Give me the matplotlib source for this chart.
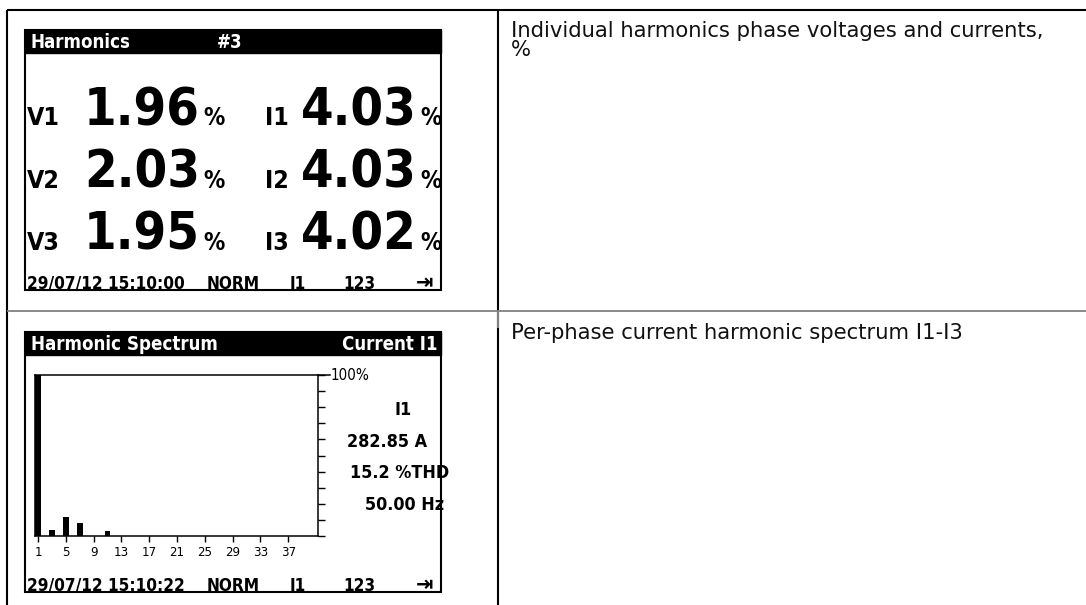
import os
import matplotlib
matplotlib.use('Agg')
import matplotlib.pyplot as plt
import matplotlib.patches as patches
from matplotlib import font_manager

# Values read from the meter screens
v_labels = ['V1', 'V2', 'V3']
v_values = [1.96, 2.03, 1.95]
i_labels = ['I1', 'I2', 'I3']
i_values = [4.03, 4.03, 4.02]

harmonic_orders = [1, 3, 5, 7, 11]
harmonic_levels = [100, 4, 12, 8, 3]
harmonic_ticks = [1, 5, 9, 13, 17, 21, 25, 29, 33, 37]

spectrum_info = ['I1', '282.85 A', '15.2 %THD', '50.00 Hz']
footer_top = ['29/07/12 15:10:00', 'NORM', 'I1', '123']
footer_bottom = ['29/07/12 15:10:22', 'NORM', 'I1', '123']
descriptions = ['Individual harmonics phase voltages and currents,\n%',
                'Per-phase current harmonic spectrum I1-I3']

W, H = 1086, 605


def find_lcd_font():
    # The meter uses a narrow bold face; look for any condensed bold font
    prefs = ['LiberationSansNarrow-Bold', 'NotoSans-CondensedBold', 'DejaVuSansCondensed-Bold',
             'RobotoCondensed-Bold', 'NotoSans-SemiCondensedBold', 'OpenSans-CondBold',
             'NotoSans-ExtraCondensedBold']
    files = [f.fname for f in font_manager.fontManager.ttflist]
    for p in prefs:
        for f in files:
            if os.path.basename(f).startswith(p):
                return font_manager.FontProperties(fname=f)
    for f in files:
        b = os.path.basename(f)
        if ('Narrow' in b or 'Condensed' in b) and 'Bold' in b and 'Italic' not in b:
            return font_manager.FontProperties(fname=f)
    return font_manager.FontProperties(family='DejaVu Sans', weight='bold')


def find_plain_lcd_font():
    files = [f.fname for f in font_manager.fontManager.ttflist]
    for p in ['LiberationSansNarrow-Regular', 'NotoSans-Condensed.', 'DejaVuSansCondensed.',
              'RobotoCondensed-Regular']:
        for f in files:
            if os.path.basename(f).startswith(p):
                return font_manager.FontProperties(fname=f)
    return font_manager.FontProperties(family='DejaVu Sans')


LCD = find_lcd_font()
LCD_PLAIN = find_plain_lcd_font()


def fx(x):
    return x / W


def fy(y):
    return 1 - y / H


def fit_size(bg, renderer, s, width_px, fp):
    # Font size that makes the string about width_px pixels wide
    t = bg.text(0, 0, s, fontproperties=fp, fontsize=20)
    w = t.get_window_extent(renderer).width
    t.remove()
    return 20 * width_px / w


def put(bg, x, y, s, fp, size, **kw):
    bg.text(x, y, s, fontproperties=fp, fontsize=size, **kw)


def draw_table(bg, renderer):
    # Table borders
    bg.plot([7, W], [10, 10], color='black', lw=1.5, solid_capstyle='butt')
    bg.plot([7, 7], [10, H], color='black', lw=1.5, solid_capstyle='butt')
    bg.plot([498, 498], [10, H], color='black', lw=1.5, solid_capstyle='butt')
    bg.plot([7, W], [311, 311], color='#808080', lw=1.3, solid_capstyle='butt')
    bg.plot([498, 498], [311, 328], color='#808080', lw=1.5, solid_capstyle='butt')
    # Descriptions in the right column
    plain = font_manager.FontProperties(family='DejaVu Sans')
    size = fit_size(bg, renderer, descriptions[0].split('\n')[0], 535, plain)
    starts = [37, 339]
    for text, y0 in zip(descriptions, starts):
        for j, line in enumerate(text.split('\n')):
            put(bg, 511, y0 + 19 * j, line, plain, size, va='baseline', ha='left',
                color='#111111')


def draw_screen(bg, renderer, top, titles, footer):
    # Screen frame and header bar
    bg.add_patch(patches.Rectangle((25, top), 416, 260, fill=False,
                                   edgecolor='black', lw=1.5))
    bg.add_patch(patches.Rectangle((25, top), 416, 23, color='black'))
    hs = fit_size(bg, renderer, 'Harmonics', 100, LCD)
    put(bg, 31, top + 12, titles[0], LCD, hs, color='white', va='center', ha='left')
    if titles[1] == '#3':
        put(bg, 217, top + 12, titles[1], LCD, hs, color='white', va='center', ha='left')
    else:
        put(bg, 437, top + 12, titles[1], LCD, hs, color='white', va='center', ha='right')
    # Footer status line
    fs = fit_size(bg, renderer, footer[0], 158, LCD)
    xs = [27, 207, 290, 343]
    for x, s in zip(xs, footer):
        put(bg, x, top + 259, s, LCD, fs, va='baseline', ha='left')
    bg.text(416, top + 259, '\u21e5', fontsize=15, family='DejaVu Sans', weight='bold',
            va='baseline', ha='left')


def draw_harmonics(bg, renderer):
    draw_screen(bg, renderer, 30, ['Harmonics', '#3'], footer_top)
    label_size = fit_size(bg, renderer, 'V1', 33, LCD)
    value_size = fit_size(bg, renderer, '2.03', 116, LCD)
    pct_size = label_size * 0.95
    baselines = [125, 188, 250]
    for k in range(3):
        y = baselines[k]
        put(bg, 27, y, v_labels[k], LCD, label_size, va='baseline')
        put(bg, 200, y, '%.2f' % v_values[k], LCD, value_size, va='baseline', ha='right')
        put(bg, 203, y, '%', LCD, pct_size, va='baseline')
        put(bg, 265, y, i_labels[k], LCD, label_size, va='baseline')
        put(bg, 417, y, '%.2f' % i_values[k], LCD, value_size, va='baseline', ha='right')
        put(bg, 420, y, '%', LCD, pct_size, va='baseline')


def draw_spectrum(fig, bg, renderer):
    draw_screen(bg, renderer, 332, ['Harmonic Spectrum', 'Current I1'], footer_bottom)
    # Bar chart of harmonic levels
    ax = fig.add_axes([fx(35), fy(536), fx(318 - 35), (536 - 375) / H])
    ax.bar(harmonic_orders, harmonic_levels, width=0.8, color='black')
    ax.set_xlim(0.55, 41.3)
    ax.set_ylim(0, 100)
    for sp in ax.spines.values():
        sp.set_linewidth(1.1)
    tick_size = fit_size(bg, renderer, '37', 15, LCD_PLAIN)
    ax.set_xticks(harmonic_ticks)
    ax.set_xticklabels([str(t) for t in harmonic_ticks], fontproperties=LCD_PLAIN,
                       fontsize=tick_size)
    ax.tick_params(axis='x', direction='out', length=4, width=1, pad=3)
    ax.yaxis.tick_right()
    ax.set_yticks(range(0, 101, 10))
    ax.set_yticklabels([])
    ax.tick_params(axis='y', direction='out', length=5, width=1)
    bg.plot([318, 330], [375, 375], color='black', lw=1.1)
    pct_size = fit_size(bg, renderer, '100%', 39, LCD_PLAIN)
    put(bg, 331, 376, '100%', LCD_PLAIN, pct_size, va='center', ha='left')
    # Readings next to the spectrum
    info_size = fit_size(bg, renderer, spectrum_info[1], 80, LCD)
    info_x = [395, 347, 350, 365]
    info_y = [410, 442, 473, 505]
    for x, y, s in zip(info_x, info_y, spectrum_info):
        put(bg, x, y, s, LCD, info_size, va='center', ha='left')


def main():
    fig = plt.figure(figsize=(W / 100, H / 100), dpi=100)
    renderer = fig.canvas.get_renderer()
    bg = fig.add_axes([0, 0, 1, 1])
    bg.set_xlim(0, W)
    bg.set_ylim(H, 0)
    bg.axis('off')

    draw_table(bg, renderer)
    draw_harmonics(bg, renderer)
    draw_spectrum(fig, bg, renderer)

    fig.savefig('out.png', dpi=100)


if __name__ == "__main__":
    main()
